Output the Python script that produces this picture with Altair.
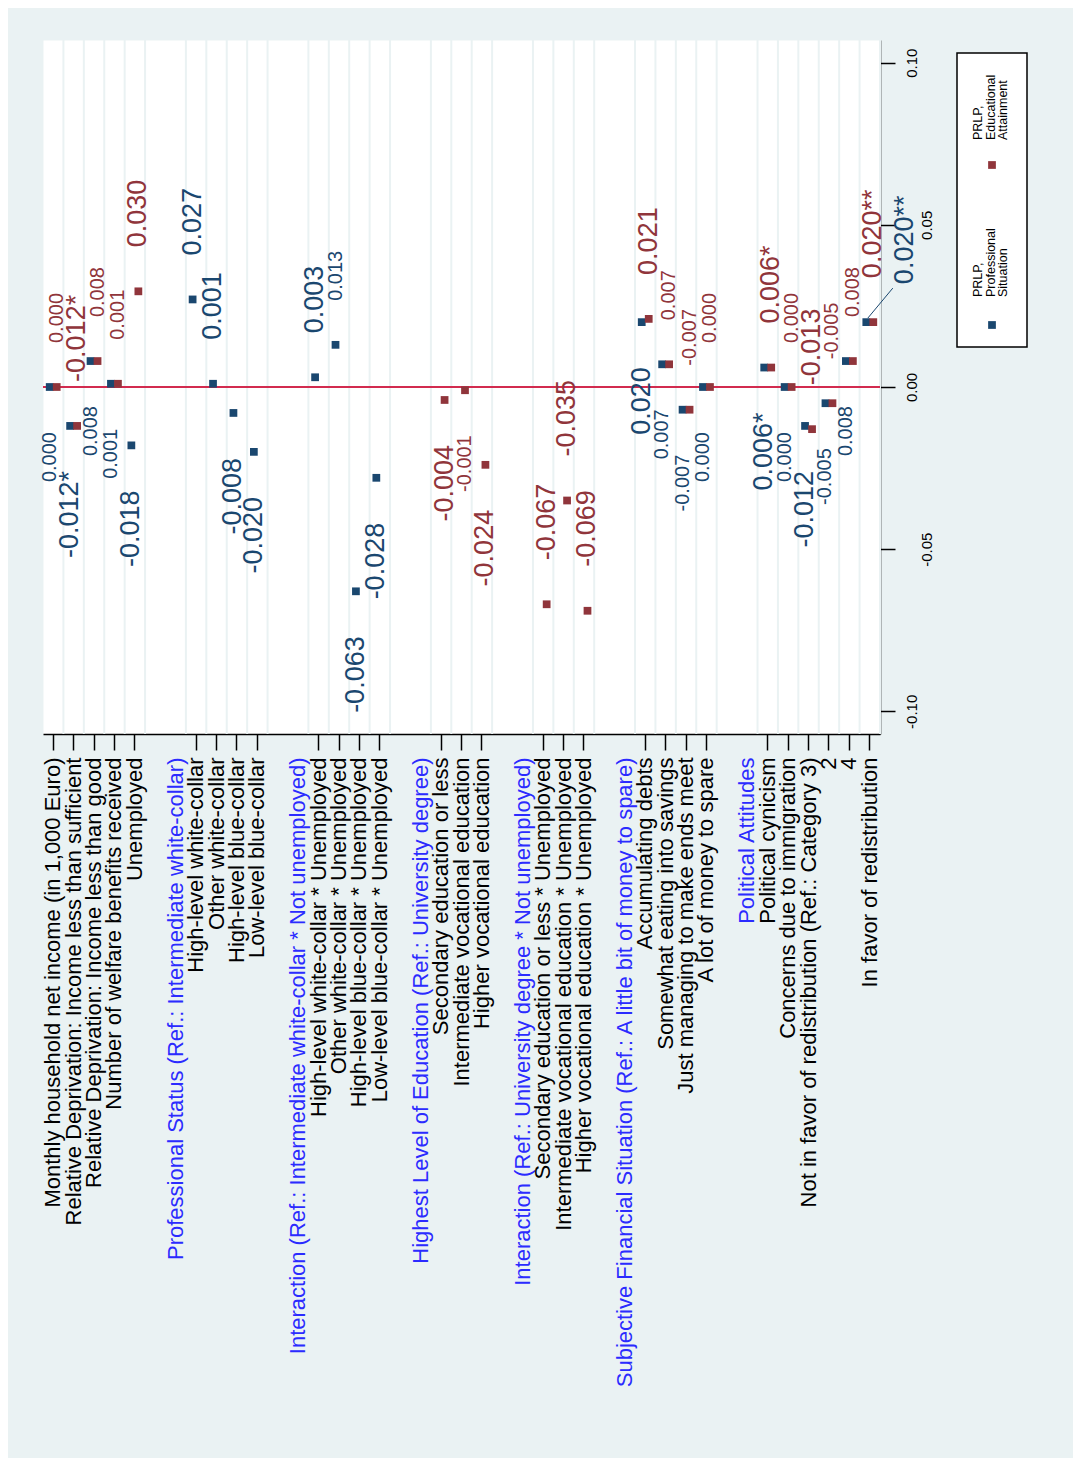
import json
import altair as alt
import pandas as pd

FONT = "Liberation Sans"
NAVY = "#1a476f"
MAROON = "#90353b"
HEADER_BLUE = "#2b2bff"
BG = "#eaf2f3"
ZERO_RED = "#d22b4f"

series_names = ["PRLP, Professional Situation", "PRLP, Educational Attainment"]
legend_texts = ["PRLP,\nProfessional\nSituation", "PRLP,\nEducational\nAttainment"]

slots = [
    "Monthly household net income (in 1,000 Euro)",
    "Relative Deprivation: Income less than sufficient",
    "Relative Deprivation: Income less than good",
    "Number of welfare benefits received",
    "Unemployed",
    "_b1",
    "Professional Status (Ref.: Intermediate white-collar)",
    "High-level white-collar",
    "Other white-collar",
    "High-level blue-collar",
    "Low-level blue-collar",
    "_b2",
    "Interaction (Ref.: Intermediate white-collar * Not unemployed)",
    "High-level white-collar * Unemployed",
    "Other white-collar * Unemployed",
    "High-level blue-collar * Unemployed",
    "Low-level blue-collar * Unemployed",
    "_b3",
    "Highest Level of Education (Ref.: University degree)",
    "Secondary education or less",
    "Intermediate vocational education",
    "Higher vocational education",
    "_b4",
    "Interaction (Ref.: University degree * Not unemployed)",
    "Secondary education or less * Unemployed",
    "Intermediate vocational education * Unemployed",
    "Higher vocational education * Unemployed",
    "_b5",
    "Subjective Financial Situation (Ref.: A little bit of money to spare)",
    "Accumulating debts",
    "Somewhat eating into savings",
    "Just managing to make ends meet",
    "A lot of money to spare",
    "_b6",
    "Political Attitudes",
    "Political cynicism",
    "Concerns due to immigration",
    "Not in favor of redistribution (Ref.: Category 3)",
    "2",
    "4",
    "In favor of redistribution",
]

headers = [
    "Professional Status (Ref.: Intermediate white-collar)",
    "Interaction (Ref.: Intermediate white-collar * Not unemployed)",
    "Highest Level of Education (Ref.: University degree)",
    "Interaction (Ref.: University degree * Not unemployed)",
    "Subjective Financial Situation (Ref.: A little bit of money to spare)",
    "Political Attitudes",
]
blanks = [s for s in slots if s.startswith("_b")]
variables = [s for s in slots if s not in headers and s not in blanks]

# Model 1: PRLP, Professional Situation (navy)
prof_values = [0.000, -0.012, 0.008, 0.001, -0.018,
               0.027, 0.001, -0.008, -0.020,
               0.003, 0.013, -0.063, -0.028,
               None, None, None, None, None, None,
               0.020, 0.007, -0.007, 0.000,
               0.006, 0.000, -0.012, -0.005, 0.008, 0.020]
prof_labels = ["0.000", "-0.012*", "0.008", "0.001", "-0.018",
               "0.027", "0.001", "-0.008", "-0.020",
               "0.003", "0.013", "-0.063", "-0.028",
               None, None, None, None, None, None,
               "0.020", "0.007", "-0.007", "0.000",
               "0.006*", "0.000", "-0.012", "-0.005", "0.008", "0.020**"]
prof_label_side = ["down", "down", "down", "down", "down",
                   "up", "up", "down", "down",
                   "up", "up", "down", "down",
                   None, None, None, None, None, None,
                   "down", "down", "down", "down",
                   "down", "down", "down", "down", "down", "upright"]
prof_label_big = [False, True, False, False, True,
                  True, True, True, True,
                  True, False, True, True,
                  None, None, None, None, None, None,
                  True, False, False, False,
                  True, False, True, False, False, True]

# Model 2: PRLP, Educational Attainment (maroon)
edu_values = [0.000, -0.012, 0.008, 0.001, 0.0295,
              None, None, None, None,
              None, None, None, None,
              -0.004, -0.001, -0.024,
              -0.067, -0.035, -0.069,
              0.021, 0.007, -0.007, 0.000,
              0.006, 0.000, -0.013, -0.005, 0.008, 0.020]
edu_labels = ["0.000", "-0.012*", "0.008", "0.001", "0.030",
              None, None, None, None,
              None, None, None, None,
              "-0.004", "-0.001", "-0.024",
              "-0.067", "-0.035", "-0.069",
              "0.021", "0.007", "-0.007", "0.000",
              "0.006*", "0.000", "-0.013", "-0.005", "0.008", "0.020**"]
edu_label_side = ["up", "up", "up", "up", "up",
                  None, None, None, None,
                  None, None, None, None,
                  "down", "down", "down",
                  "up", "up", "up",
                  "up", "up", "up", "up",
                  "up", "up", "up", "up", "up", "up"]
edu_label_big = [False, True, False, False, True,
                 None, None, None, None,
                 None, None, None, None,
                 True, False, True,
                 True, True, True,
                 True, False, False, False,
                 True, False, True, False, False, True]

zero_line = [0.0]
y_ticks = [-0.10, -0.05, 0.0, 0.05, 0.10]

rows = []
for s, vals, labs, sides, bigs in [
    (series_names[0], prof_values, prof_labels, prof_label_side, prof_label_big),
    (series_names[1], edu_values, edu_labels, edu_label_side, edu_label_big),
]:
    for var, v, l, sd, bg in zip(variables, vals, labs, sides, bigs):
        if v is None:
            continue
        rows.append(dict(slot=var, series=s, value=v, label=l, side=sd,
                         big="L" if bg else "S"))
df = pd.DataFrame(rows)
grid_df = pd.DataFrame({"slot": [s for s in slots if s not in blanks]})
zero_df = pd.DataFrame({"value": zero_line})
one_df = pd.DataFrame({"k": [0]})

W, H = 837, 694
notick_test = "indexof(%s, datum.value) >= 0" % json.dumps(headers + blanks)
header_test = "indexof(%s, datum.value) >= 0" % json.dumps(headers)

x_axis = alt.Axis(
    orient="bottom", title="", grid=False,
    domainColor="black", domainWidth=1.5,
    tickColor="black", tickWidth=1.5, tickSize=16,
    tickOpacity={"condition": {"test": notick_test, "value": 0}, "value": 1},
    labelAngle=270, labelAlign="right", labelBaseline="middle", labelPadding=7,
    labelFont=FONT, labelFontSize=22, labelLimit=1000, labelOverlap=False,
    labelColor={"condition": {"test": header_test, "value": HEADER_BLUE}, "value": "black"},
    labelExpr="indexof(datum.value, '_b') == 0 ? '' : datum.value",
)
y_axis = alt.Axis(
    orient="right", title="", grid=False, values=y_ticks,
    domainColor="black", domainWidth=1.5,
    tickColor="black", tickWidth=1.5, tickSize=15,
    labelAngle=270, labelAlign="center", labelBaseline="top",
    labelPadding={"condition": {"test": "abs(abs(datum.value) - 0.05) < 0.001", "value": 24}, "value": 9},
    labelFont=FONT, labelFontSize=15, labelColor="black",
    labelExpr="(datum.value < 0 ? '-' : '') + format(abs(datum.value), '.2f')",
)
xscale = alt.Scale(type="band", domain=slots, paddingInner=0, paddingOuter=0)
yscale = alt.Scale(domain=[-0.107, 0.107], nice=False, zero=False)
X = alt.X("slot:N", scale=xscale, axis=x_axis)
Y = alt.Y("value:Q", scale=yscale, axis=y_axis)

layers = []
# grid lines (band boundaries after each labelled row)
layers.append(
    alt.Chart(grid_df).mark_rule(color=BG, strokeWidth=2).encode(
        x=alt.X("slot:N", scale=xscale, axis=x_axis, bandPosition=1)
    )
)
# zero line
layers.append(alt.Chart(zero_df).mark_rule(color=ZERO_RED, strokeWidth=2).encode(y=Y))

colors = {series_names[0]: NAVY, series_names[1]: MAROON}
offsets = {series_names[0]: -3.5, series_names[1]: 3.5}

# leader line for labels pushed to the upper right
layers.append(
    alt.Chart(df).transform_filter(alt.datum.side == "upright").mark_rule(
        color=NAVY, strokeWidth=1, xOffset=-2, x2Offset=23, yOffset=-4, y2Offset=-34
    ).encode(x=X, x2=alt.X2("slot:N"), y=Y, y2=alt.Y2("value:Q"))
)

for s in series_names:
    layers.append(
        alt.Chart(df).transform_filter(alt.datum.series == s).mark_point(
            shape="square", filled=True, size=60, opacity=1, color=colors[s], xOffset=offsets[s]
        ).encode(x=X, y=Y)
    )

for s in series_names:
    for side, align, dx, xo in [("up", "left", 44, offsets[s]),
                                ("down", "right", -45, offsets[s]),
                                ("upright", "left", 38, 35)]:
        for big, fs in [("S", 20), ("L", 27)]:
            layers.append(
                alt.Chart(df).transform_filter(
                    (alt.datum.series == s) & (alt.datum.side == side) & (alt.datum.big == big)
                ).mark_text(
                    angle=270, align=align, baseline="middle", dx=dx, xOffset=xo,
                    font=FONT, fontSize=fs, color=colors[s]
                ).encode(x=X, y=Y, text="label:N")
            )

# legend (drawn rotated like the rest of the figure)
layers.append(
    alt.Chart(one_df).mark_rect(fill="white", stroke="black", strokeWidth=1.5).encode(
        x=alt.value(914), x2=alt.value(984), y=alt.value(13), y2=alt.value(307)
    )
)
for s, txt, py, ty in [(series_names[0], legend_texts[0], 285, 257),
                       (series_names[1], legend_texts[1], 125, 100)]:
    leg_df = pd.DataFrame({"series": [s], "text": [txt]})
    layers.append(
        alt.Chart(leg_df).mark_point(shape="square", filled=True, size=60, opacity=1,
                                     color=colors[s]).encode(x=alt.value(949), y=alt.value(py))
    )
    layers.append(
        alt.Chart(leg_df).mark_text(angle=270, align="left", baseline="top", lineBreak="\n",
                                    font=FONT, fontSize=12.5, lineHeight=12.5, color="black").encode(
            x=alt.value(929), y=alt.value(ty), text="text:N")
    )

chart = alt.layer(*layers).properties(
    width=W, height=H,
    padding={"left": 35, "top": 32, "right": 193, "bottom": 724},
    autosize=alt.AutoSizeParams(type="none"),
    background=BG,
).configure_view(fill="white", strokeOpacity=0)

chart.save("out.html", embed_options={"renderer": "svg", "actions": False})
